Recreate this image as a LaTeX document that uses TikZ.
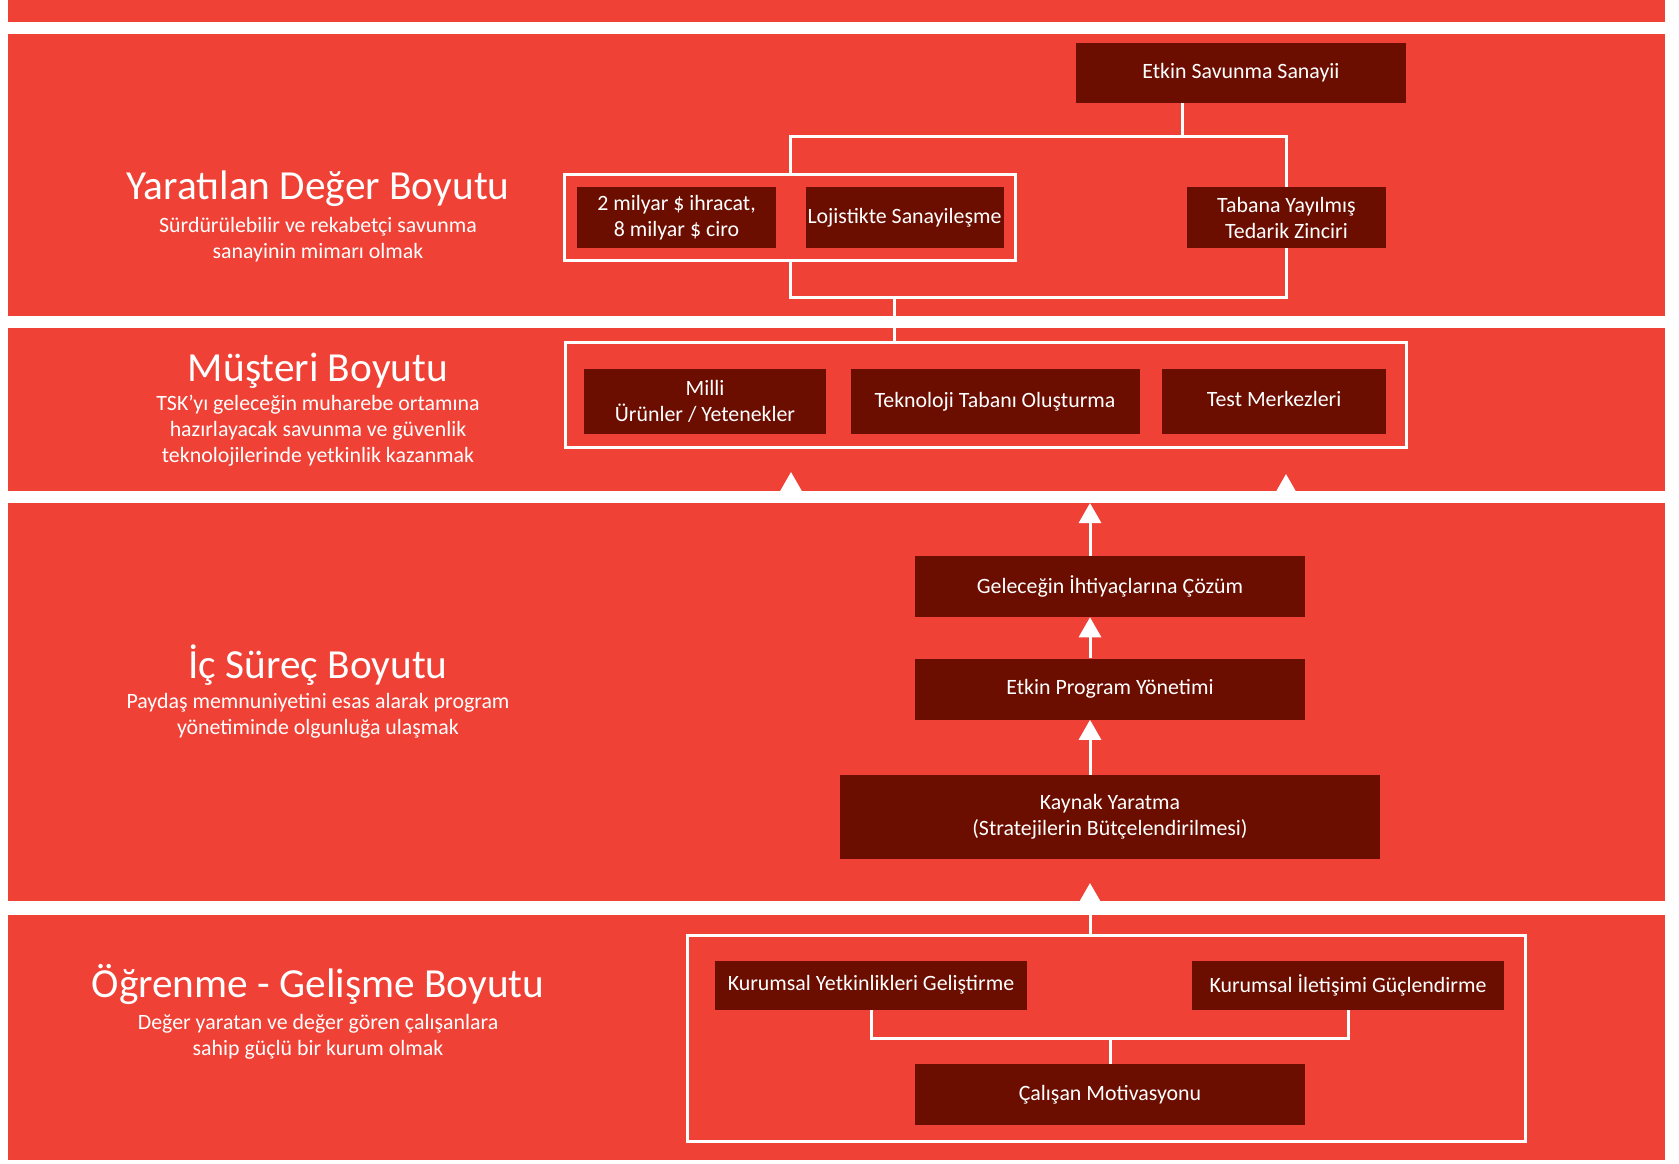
\documentclass[tikz,border=0pt]{standalone}
\usepackage{fontspec}
\setmainfont{Carlito}
\usetikzlibrary{arrows.meta, positioning, fit}
\definecolor{bscRed}{HTML}{EF4136}
\definecolor{bscDark}{HTML}{6B0E00}
\newlength{\unitpx}
\setlength{\unitpx}{0.75pt}
\tikzset{
  band/.style={fill=bscRed, draw=none},
  goalbox/.style={rectangle, fill=bscDark, text=white, align=center, inner sep=0pt,
                  font=\fontsize{16.4}{19.5}\selectfont},
  grpbox/.style={rectangle, draw=white, line width=3\unitpx, inner sep=0pt},
  link/.style={draw=white, line width=3\unitpx},
  flow/.style={link, -{Triangle[length=15pt, width=16.5pt]}},
}

\begin{document}
\begin{tikzpicture}[x=1\unitpx, y=-1\unitpx,
  dimtitle/.style={text=white, inner sep=0pt, font=\fontsize{31}{36}\selectfont},
  dimtext/.style={text=white, align=center, inner sep=0pt,
                  font=\fontsize{16.4}{19.5}\selectfont}]
  \useasboundingbox (0,0) rectangle (1679,1164);
  % the four perspective bands
  \fill[band] (8,0) rectangle (1665,22);
  \fill[band] (8,34) rectangle (1665,316);
  \fill[band] (8,328) rectangle (1665,491);
  \fill[band] (8,503) rectangle (1665,901);
  \fill[band] (8,915) rectangle (1665,1160);

  % perspective titles
  \node[dimtitle, anchor=base](t1) at (318,199){Yaratılan Değer Boyutu};
  \node[dimtext, below=11\unitpx of t1](d1){Sürdürülebilir ve rekabetçi savunma\\sanayinin mimarı olmak};
  \node[dimtitle, anchor=base](t2) at (318,381){Müşteri Boyutu};
  \node[dimtext, below=7\unitpx of t2](d2){TSK’yı geleceğin muharebe ortamına\\hazırlayacak savunma ve güvenlik\\teknolojilerinde yetkinlik kazanmak};
  \node[dimtitle, anchor=base](t3) at (318,678){İç Süreç Boyutu};
  \node[dimtext, below=8\unitpx of t3](d3){Paydaş memnuniyetini esas alarak program\\yönetiminde olgunluğa ulaşmak};
  \node[dimtitle, anchor=base](t4) at (318,997){Öğrenme - Gelişme Boyutu};
  \node[dimtext, below=10\unitpx of t4](d4){Değer yaratan ve değer gören çalışanlara\\sahip güçlü bir kurum olmak};

  % created value
  \node[goalbox, minimum width=330\unitpx, minimum height=60\unitpx](goal) at (1241,73){Etkin Savunma Sanayii};
  \node[goalbox, minimum width=199\unitpx, minimum height=61\unitpx](rev) at (676.5,217.5){2 milyar \$ ihracat,\\8 milyar \$ ciro};
  \node[goalbox, minimum width=198\unitpx, minimum height=61\unitpx, right=29\unitpx of rev](logi){Lojistikte Sanayileşme};
  \node[goalbox, minimum width=199\unitpx, minimum height=61\unitpx](tabana) at (1286.5,217.5){Tabana Yayılmış\\Tedarik Zinciri};
  \node[grpbox, fit=(rev)(logi), inner sep=12\unitpx](grpA){};

  % customer
  \node[grpbox, minimum width=841\unitpx, minimum height=105\unitpx](grpB) at (986,394.5){};
  \node[goalbox, minimum width=242\unitpx, minimum height=65\unitpx](milli) at (705,401.5){Milli\\Ürünler / Yetenekler};
  \node[goalbox, minimum width=289\unitpx, minimum height=65\unitpx, right=24\unitpx of milli](tekno){Teknoloji Tabanı Oluşturma};
  \node[goalbox, minimum width=224\unitpx, minimum height=65\unitpx, right=22\unitpx of tekno](test){\raisebox{6\unitpx}{Test Merkezleri}};

  % internal process
  \node[goalbox, minimum width=390\unitpx, minimum height=61\unitpx](solve) at (1110,586.5){Geleceğin İhtiyaçlarına Çözüm};
  \node[goalbox, minimum width=390\unitpx, minimum height=61\unitpx, below=41\unitpx of solve](prog){Etkin Program Yönetimi};
  \node[goalbox, minimum width=540\unitpx, minimum height=84\unitpx, below=55\unitpx of prog](fund){Kaynak Yaratma\\(Stratejilerin Bütçelendirilmesi)};

  % learning and growth
  \node[grpbox, minimum width=838\unitpx, minimum height=206\unitpx](grpD) at (1106,1038){};
  \node[goalbox, minimum width=312\unitpx, minimum height=49\unitpx](yetk) at (871,985){Kurumsal Yetkinlikleri Geliştirme};
  \node[goalbox, minimum width=312\unitpx, minimum height=49\unitpx](ilet) at (1348,985){Kurumsal İletişimi Güçlendirme};
  \node[goalbox, minimum width=390\unitpx, minimum height=61\unitpx](motiv) at (1110,1094.5){Çalışan Motivasyonu};

  % connectors
  \coordinate (hubTop) at (1182,136);
  \coordinate (hubBot) at (894.5,297);
  \coordinate (hubLow) at (1110,1038);
  \coordinate (spine) at (1090,503);
  \coordinate (tipL) at (791,472);
  \coordinate (tipR) at (1286,474);
  \coordinate (tipB) at (1090,883);
  \draw[link](goal.south -| hubTop)--(hubTop);
  \draw[link](grpA.north) |- (hubTop) -| (tabana.north);
  \draw[link](grpA.south) |- (hubBot) -| (tabana.south);
  \draw[link](hubBot)--(hubBot |- grpB.north);
  \draw[flow](tipL |- spine)--(tipL);
  \draw[flow](tipR |- spine)--(tipR);
  \draw[flow](solve.north -| spine)--(spine);
  \draw[flow](prog.north -| spine)--(solve.south -| spine);
  \draw[flow](fund.north -| spine)--(prog.south -| spine);
  \draw[flow](grpD.north -| spine)--(tipB);
  \draw[link](yetk.south) |- (hubLow) -| (ilet.south);
  \draw[link](hubLow)--(motiv.north);
\end{tikzpicture}
\end{document}
